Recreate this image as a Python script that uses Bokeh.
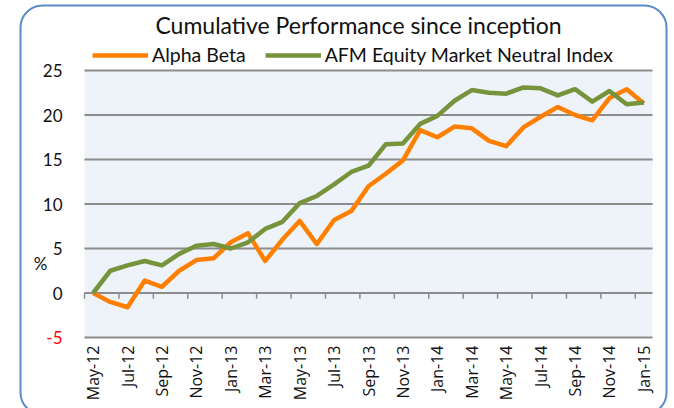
import math
from bokeh.plotting import figure
from bokeh.models import (Legend, LegendItem, Label, BoxAnnotation, ColumnDataSource)
from bokeh.core.properties import value
from bokeh.embed import file_html
from bokeh.resources import INLINE

months = ["May-12", "Jun-12", "Jul-12", "Aug-12", "Sep-12", "Oct-12", "Nov-12", "Dec-12",
          "Jan-13", "Feb-13", "Mar-13", "Apr-13", "May-13", "Jun-13", "Jul-13", "Aug-13",
          "Sep-13", "Oct-13", "Nov-13", "Dec-13", "Jan-14", "Feb-14", "Mar-14", "Apr-14",
          "May-14", "Jun-14", "Jul-14", "Aug-14", "Sep-14", "Oct-14", "Nov-14", "Dec-14",
          "Jan-15"]
alpha_beta = [0.0, -1.0, -1.6, 1.4, 0.7, 2.5, 3.7, 3.9, 5.7, 6.7, 3.6, 6.0, 8.1, 5.5, 8.2,
              9.2, 12.0, 13.4, 14.9, 18.3, 17.5, 18.7, 18.5, 17.1, 16.5, 18.6, 19.8, 20.9,
              20.0, 19.4, 21.9, 22.9, 21.3]
afm_index = [0.0, 2.5, 3.1, 3.6, 3.1, 4.4, 5.3, 5.5, 5.0, 5.7, 7.2, 8.0, 10.1, 10.9, 12.2,
             13.6, 14.3, 16.7, 16.8, 19.0, 19.9, 21.6, 22.8, 22.5, 22.4, 23.1, 23.0, 22.2,
             22.9, 21.5, 22.7, 21.2, 21.4]
y_ticks = [-5, 0, 5, 10, 15, 20, 25]
y_tick_colors = ["red", "#111111", "#111111", "#111111", "#111111", "#111111", "#111111"]
title_text = "Cumulative Performance since inception"
series_names = ["Alpha Beta", "AFM Equity Market Neutral Index"]
unit_text = "%"
unit_value = 3.3

# ---- layout (pixels of the 674x408 canvas) ----
W, H = 674, 408
AREA_L, AREA_R, AREA_T, AREA_B = 84, 652, 70, 337
X0, X1 = -0.5, len(months) - 0.5
Y0, Y1 = min(y_ticks), max(y_ticks)
sx = (AREA_R - AREA_L) / (X1 - X0)
sy = (AREA_B - AREA_T) / (Y1 - Y0)


def dx(px):
    return X0 + (px - AREA_L) / sx


def dy(py):
    return Y1 - (py - AREA_T) / sy


ORANGE = "#FF8000"
GREEN = "#77933C"
FONT = "Lato"
TXT = "#111111"
GRID = "#8C8C8C"

p = figure(width=W, height=H, output_backend="svg", toolbar_location=None,
           x_range=(dx(0), dx(W)), y_range=(dy(H), dy(0)),
           min_border=0, min_border_left=0, min_border_right=0,
           min_border_top=0, min_border_bottom=0)
p.xaxis.visible = False
p.yaxis.visible = False
p.xgrid.visible = False
p.ygrid.visible = False
p.background_fill_color = "white"
p.border_fill_color = "white"
p.outline_line_color = None

# plot area background
p.add_layout(BoxAnnotation(left=X0, right=X1, bottom=Y0, top=Y1,
                           fill_color="#EEF3FA", fill_alpha=1, line_color=None,
                           level="underlay"))

# horizontal gridlines
p.segment(x0=[X0] * len(y_ticks), x1=[X1] * len(y_ticks), y0=y_ticks, y1=y_ticks,
          line_color=GRID, line_width=2)

# tick marks on the zero line, between pairs of months
idx = list(range(len(months)))
tick_x = [i - 0.5 for i in idx[::2]]
p.segment(x0=tick_x, x1=tick_x, y0=[0] * len(tick_x), y1=[-0.64] * len(tick_x),
          line_color=GRID, line_width=1.5)

# series
src = ColumnDataSource(dict(x=idx, ab=alpha_beta, afm=afm_index))
r1 = p.line("x", "ab", source=src, line_color=ORANGE, line_width=4.5, line_join="round")
r2 = p.line("x", "afm", source=src, line_color=GREEN, line_width=4.5, line_join="round")

# y tick labels
ysrc = ColumnDataSource(dict(x=[dx(62)] * len(y_ticks), y=y_ticks,
                             t=[str(v) for v in y_ticks], c=y_tick_colors))
p.text(x="x", y="y", text="t", text_color="c", source=ysrc, text_align="right",
       text_baseline="middle", text_font=value(FONT), text_font_size=value("17px"))

# x tick labels (every second month, vertical)
xl = idx[::2]
xsrc = ColumnDataSource(dict(x=xl, y=[dy(AREA_B + 8)] * len(xl), t=[months[i] for i in xl]))
p.text(x="x", y="y", text="t", source=xsrc, angle=math.pi / 2, text_align="right",
       text_baseline="middle", text_color=TXT, text_font=value("Open Sans"),
       text_font_size=value("16px"))

# unit label
p.add_layout(Label(x=dx(40), y=unit_value, text=unit_text, text_align="center",
                   text_baseline="middle", text_color=TXT, text_font=FONT,
                   text_font_size="17px"))

# title
p.add_layout(Label(x=dx(358), y=dy(24.5), text=title_text, text_align="center",
                   text_baseline="middle", text_color=TXT, text_font=FONT,
                   text_font_size="23px"))

# legend
legend = Legend(items=[LegendItem(label=series_names[0], renderers=[r1]),
                       LegendItem(label=series_names[1], renderers=[r2])],
                orientation="horizontal", location=(92, H - 66))
legend.background_fill_alpha = 0
legend.border_line_color = None
legend.padding = 0
legend.margin = 0
legend.spacing = 19
legend.glyph_width = 56
legend.glyph_height = 20
legend.label_standoff = 4
legend.label_text_font = FONT
legend.label_text_font_size = "19.5px"
legend.label_text_color = TXT
legend.label_height = 20
p.add_layout(legend)

# rounded chart-area border
p.add_layout(BoxAnnotation(left=20, right=666, top=H - 5, bottom=-6,
                           left_units="screen", right_units="screen",
                           top_units="screen", bottom_units="screen",
                           fill_alpha=0, line_color="#5B8BC9", line_alpha=1,
                           line_width=2, border_radius=22, level="overlay"))

open("out.html", "w").write(file_html(p, INLINE))
